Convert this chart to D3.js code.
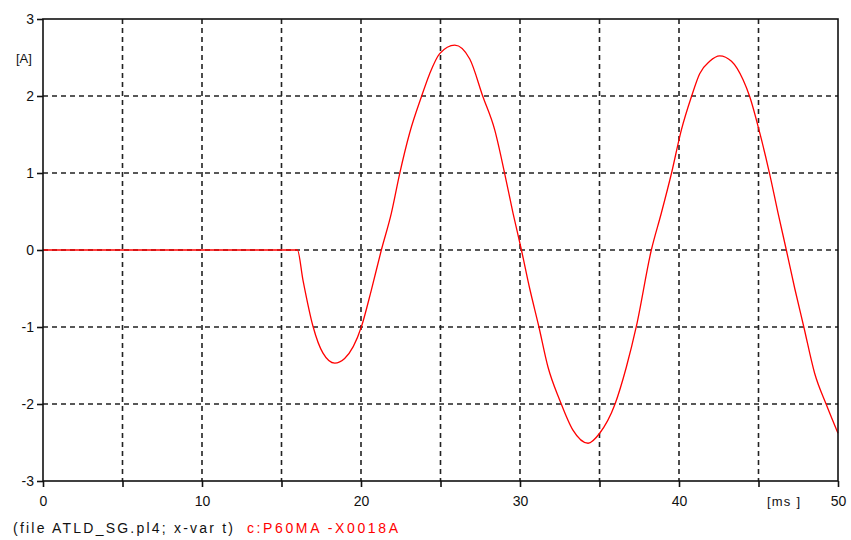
<!DOCTYPE html>
<html>
<head>
<meta charset="utf-8">
<script src="https://cdn.jsdelivr.net/npm/d3@7"></script>
<style>
  html, body { margin: 0; padding: 0; background: #fff; }
  svg { display: block; font-family: "Liberation Sans", Arial, sans-serif; }
</style>
</head>
<body>
<svg id="chart" width="851" height="540"></svg>
<script>
// ---- data ----
const timeMs = [0, 16.0, 16.35, 16.98, 17.61, 18.35, 18.97, 20.02, 20.65, 21.28, 21.91, 22.43, 23.06, 23.8, 24.32, 24.95, 25.9, 26.84, 27.67, 28.41, 29.04, 29.56, 30.09, 30.61, 31.18, 31.76, 32.5, 33.33, 34.28, 35.01, 35.96, 36.69, 37.32, 38.26, 38.89, 39.52, 40.15, 40.78, 41.3, 41.93, 42.56, 43.3, 44.03, 44.45, 45.08, 45.7, 46.23, 46.75, 47.28, 47.84, 48.53, 49.27, 50];
const currentA = [0, 0, -0.39, -0.99, -1.34, -1.47, -1.41, -1.0, -0.52, 0, 0.48, 0.99, 1.52, 1.99, 2.29, 2.55, 2.66, 2.48, 1.99, 1.56, 0.99, 0.48, 0, -0.5, -0.99, -1.52, -1.95, -2.34, -2.51, -2.38, -2.01, -1.52, -0.99, 0, 0.48, 0.99, 1.56, 1.99, 2.29, 2.45, 2.52, 2.45, 2.21, 1.99, 1.52, 0.99, 0.48, 0, -0.5, -0.99, -1.6, -2.01, -2.38];
const xTickValues = [0, 10, 20, 30, 40, 50];
const xGridValues = [5, 10, 15, 20, 25, 30, 35, 40, 45];
const yTickValues = [-3, -2, -1, 0, 1, 2, 3];
const yGridValues = [-2, -1, 0, 1, 2];
const xUnit = "[ms ]";
const yUnit = "[A]";
const footerFile = "(file ATLD_SG.pl4; x-var t)";
const footerSeries = "c:P60MA -X0018A";

// ---- layout ----
const plotLeft = 43, plotRight = 838, plotTop = 19, plotBottom = 481;
const svg = d3.select("#chart");
const x = d3.scaleLinear().domain([0, 50]).range([plotLeft, plotRight]);
const y = d3.scaleLinear().domain([-3, 3]).range([plotBottom, plotTop]);

// grid
svg.append("g").selectAll("line").data(xGridValues).join("line")
  .attr("x1", d => x(d)).attr("x2", d => x(d))
  .attr("y1", plotTop).attr("y2", plotBottom)
  .attr("stroke", "#222").attr("stroke-width", 1.6)
  .attr("stroke-dasharray", "5,4");
svg.append("g").selectAll("line").data(yGridValues).join("line")
  .attr("x1", plotLeft).attr("x2", plotRight)
  .attr("y1", d => y(d)).attr("y2", d => y(d))
  .attr("stroke", "#222").attr("stroke-width", 1.6)
  .attr("stroke-dasharray", "5,4");

// curve
const line = d3.line().x((d, i) => x(timeMs[i])).y(d => y(d)).curve(d3.curveMonotoneX);
svg.append("path").datum(currentA)
  .attr("d", line)
  .attr("fill", "none").attr("stroke", "#ff0000").attr("stroke-width", 1.3);

// frame
svg.append("rect").attr("x", plotLeft).attr("y", plotTop)
  .attr("width", plotRight - plotLeft).attr("height", plotBottom - plotTop)
  .attr("fill", "none").attr("stroke", "#111").attr("stroke-width", 1.6);

// axes with ticks
const fmt = d => String(d);
const yAxis = d3.axisLeft(y).tickValues(yTickValues).tickSize(6).tickPadding(3).tickFormat(fmt);
const gy = svg.append("g").attr("transform", `translate(${plotLeft},0)`).call(yAxis);
const xAxis = d3.axisBottom(x).tickValues(xGridValues.concat([0, 50])).tickSize(6).tickPadding(6)
  .tickFormat(d => xTickValues.includes(d) ? fmt(d) : "");
const gx = svg.append("g").attr("transform", `translate(0,${plotBottom})`).call(xAxis);
[gx, gy].forEach(g => {
  g.select(".domain").remove();
  g.selectAll(".tick line").attr("stroke", "#111").attr("stroke-width", 1.6);
  g.selectAll(".tick text").attr("fill", "#111").attr("font-size", 14)
    .attr("font-family", "'Liberation Sans', Arial, sans-serif");
});
gx.selectAll(".tick text").attr("dy", "0.9em");

// units
svg.append("text").attr("x", 16).attr("y", 63).text(yUnit)
  .attr("font-size", 13).attr("fill", "#111");
svg.append("text").attr("x", 767).attr("y", 506).text(xUnit)
  .attr("font-size", 13).attr("fill", "#111")
  .attr("textLength", 33).attr("lengthAdjust", "spacing");

// footer
svg.append("text").attr("x", 13).attr("y", 533).text(footerFile)
  .attr("font-size", 14).attr("fill", "#111")
  .attr("textLength", 220).attr("lengthAdjust", "spacing");
svg.append("text").attr("x", 247).attr("y", 533).text(footerSeries)
  .attr("font-size", 14).attr("fill", "#ff0000")
  .attr("textLength", 151).attr("lengthAdjust", "spacing");
</script>
</body>
</html>
